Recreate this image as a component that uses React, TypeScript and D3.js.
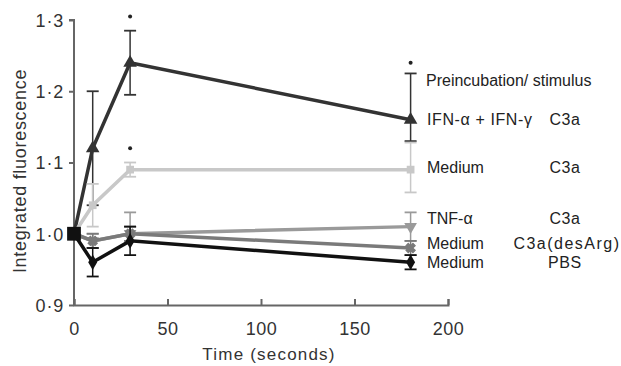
import { useEffect, useRef } from 'react';
import * as d3 from 'd3';

const times = [0, 10, 30, 180];

const seriesNames = ['IFN', 'MediumC3a', 'TNF', 'DesArg', 'PBS'];
const ifnValues = [1.0, 1.12, 1.24, 1.16];
const ifnLow = [1.0, 1.04, 1.195, 1.13];
const ifnHigh = [1.0, 1.2, 1.285, 1.225];
const mediumC3aValues = [1.0, 1.04, 1.09, 1.09];
const mediumC3aLow = [1.0, 1.01, 1.08, 1.058];
const mediumC3aHigh = [1.0, 1.07, 1.1, 1.128];
const tnfValues = [1.0, 0.99, 1.0, 1.01];
const tnfLow = [1.0, 0.98, 0.99, 0.99];
const tnfHigh = [1.0, 1.0, 1.03, 1.03];
const desArgValues = [1.0, 0.99, 1.0, 0.98];
const desArgLow = [1.0, 0.98, 0.99, 0.97];
const desArgHigh = [1.0, 1.0, 1.01, 0.99];
const pbsValues = [1.0, 0.96, 0.99, 0.96];
const pbsLow = [1.0, 0.94, 0.97, 0.95];
const pbsHigh = [1.0, 0.98, 1.01, 0.97];

const legendPre = ['IFN-\u03b1 + IFN-\u03b3', 'Medium', 'TNF-\u03b1', 'Medium', 'Medium'];
const legendStim = ['C3a', 'C3a', 'C3a', 'C3a(desArg)', 'PBS'];
const legendBaselines = [125, 173, 224, 249, 268];

// significance stars: [time, value]
const stars: [number, number][] = [
  [30, 1.305],
  [30, 1.12],
  [180, 1.24],
];

const yTicks = [0.9, 1.0, 1.1, 1.2, 1.3];
const xTicks = [0, 50, 100, 150, 200];

export default function App() {
  const svgRef = useRef<SVGSVGElement>(null);

  useEffect(() => {
    if (!svgRef.current) return;
    const svg = d3.select(svgRef.current);
    svg.selectAll('*').remove();

    const font = 'Liberation Sans, Arial, sans-serif';
    const x = d3.scaleLinear().domain([0, 200]).range([74, 448]);
    const y = d3.scaleLinear().domain([0.9, 1.3]).range([305, 20]);

    const series = [
      { values: ifnValues, low: ifnLow, high: ifnHigh, color: '#333', symbol: d3.symbolTriangle, rot: 0, size: 80 },
      { values: mediumC3aValues, low: mediumC3aLow, high: mediumC3aHigh, color: '#c8c8c8', symbol: d3.symbolSquare, rot: 0, size: 60 },
      { values: tnfValues, low: tnfLow, high: tnfHigh, color: '#9a9a9a', symbol: d3.symbolTriangle, rot: 180, size: 70 },
      { values: desArgValues, low: desArgLow, high: desArgHigh, color: '#7a7a7a', symbol: d3.symbolCross, rot: 45, size: 55 },
      { values: pbsValues, low: pbsLow, high: pbsHigh, color: '#111', symbol: d3.symbolDiamond, rot: 0, size: 70 },
    ];

    // axes
    const yAxis = svg.append('g').attr('transform', 'translate(74,0)').call(
      d3.axisLeft(y).tickValues(yTicks).tickSize(5).tickFormat((d) => d3.format('.1f')(d as number).replace('.', '\u00b7'))
    );
    const xAxis = svg.append('g').attr('transform', 'translate(0,305)').call(
      d3.axisBottom(x).tickValues(xTicks).tickSize(-6).tickFormat(d3.format('d'))
    );
    [yAxis, xAxis].forEach((a) => {
      a.select('.domain').attr('stroke', '#666').attr('stroke-width', 2);
      a.selectAll('.tick line').attr('stroke', '#666').attr('stroke-width', 2);
      a.selectAll('.tick text').attr('fill', '#333').style('font-size', '18px').style('font-family', font);
    });
    yAxis.select('.domain').attr('d', 'M-5,20H0V305');
    xAxis.selectAll('.tick text').attr('y', 30).attr('dy', 0).style('letter-spacing', '0.5px');
    yAxis.selectAll('.tick text').attr('x', -10).attr('dy', '0.35em').style('letter-spacing', '0.8px');

    const line = d3
      .line<number>()
      .x((_, i) => x(times[i]))
      .y((d) => y(d));

    const plot = svg.append('g');
    series.forEach((s, si) => {
      const g = plot.append('g').attr('class', seriesNames[si]);
      // error bars
      times.forEach((t, i) => {
        if (s.low[i] === s.high[i]) return;
        const cx = x(t);
        g.append('line').attr('x1', cx).attr('x2', cx).attr('y1', y(s.low[i])).attr('y2', y(s.high[i]))
          .attr('stroke', s.color).attr('stroke-width', 1.5);
        [s.low[i], s.high[i]].forEach((v) => {
          g.append('line').attr('x1', cx - 6).attr('x2', cx + 6).attr('y1', y(v)).attr('y2', y(v))
            .attr('stroke', s.color).attr('stroke-width', 1.8);
        });
      });
      g.append('path').datum(s.values).attr('d', line).attr('fill', 'none')
        .attr('stroke', s.color).attr('stroke-width', 3.5);
      s.values.forEach((v, i) => {
        if (i === 0) return;
        g.append('path')
          .attr('d', d3.symbol().type(s.symbol).size(s.size)())
          .attr('transform', `translate(${x(times[i])},${y(v)}) rotate(${s.rot})`)
          .attr('fill', s.color)
          .attr('stroke', s.color)
          .attr('stroke-width', s.symbol === d3.symbolCross ? 1 : 0);
      });
    });

    // starting point marker
    plot.append('path')
      .attr('d', d3.symbol().type(d3.symbolSquare).size(190)())
      .attr('transform', `translate(${x(0)},${y(1.0)})`)
      .attr('fill', '#111');

    // stars
    stars.forEach(([t, v]) => {
      svg.append('circle').attr('cx', x(t)).attr('cy', y(v)).attr('r', 2).attr('fill', '#222');
    });

    // legend
    const legend = svg.append('g').style('font-family', font).style('font-size', '16px').attr('fill', '#222');
    legend.append('text').attr('x', 426).attr('y', 86).text('Preincubation/ stimulus');
    legendPre.forEach((p, i) => {
      legend.append('text').attr('x', 427).attr('y', legendBaselines[i])
        .style('letter-spacing', i === 0 ? '0.6px' : '0px').text(p);
      const long = legendStim[i].length > 5;
      legend.append('text').attr('x', long ? 567 : 565).attr('y', legendBaselines[i]).attr('text-anchor', 'middle')
        .style('letter-spacing', long ? '1.5px' : '0.6px')
        .text(legendStim[i]);
    });

    // axis titles
    svg.append('text').attr('x', 269).attr('y', 360).attr('text-anchor', 'middle')
      .style('font-family', font).style('font-size', '17px').style('letter-spacing', '1.2px')
      .attr('fill', '#333').text('Time (seconds)');
    svg.append('text').attr('transform', 'translate(26,171) rotate(-90)').attr('text-anchor', 'middle')
      .style('font-family', font).style('font-size', '18px').style('letter-spacing', '0.7px')
      .attr('fill', '#333').text('Integrated fluorescence');
  }, []);

  return (
    <svg
      ref={svgRef}
      width={621}
      height={366}
      style={{ position: 'absolute', left: 0, top: 0, background: '#fff' }}
    ></svg>
  );
}
